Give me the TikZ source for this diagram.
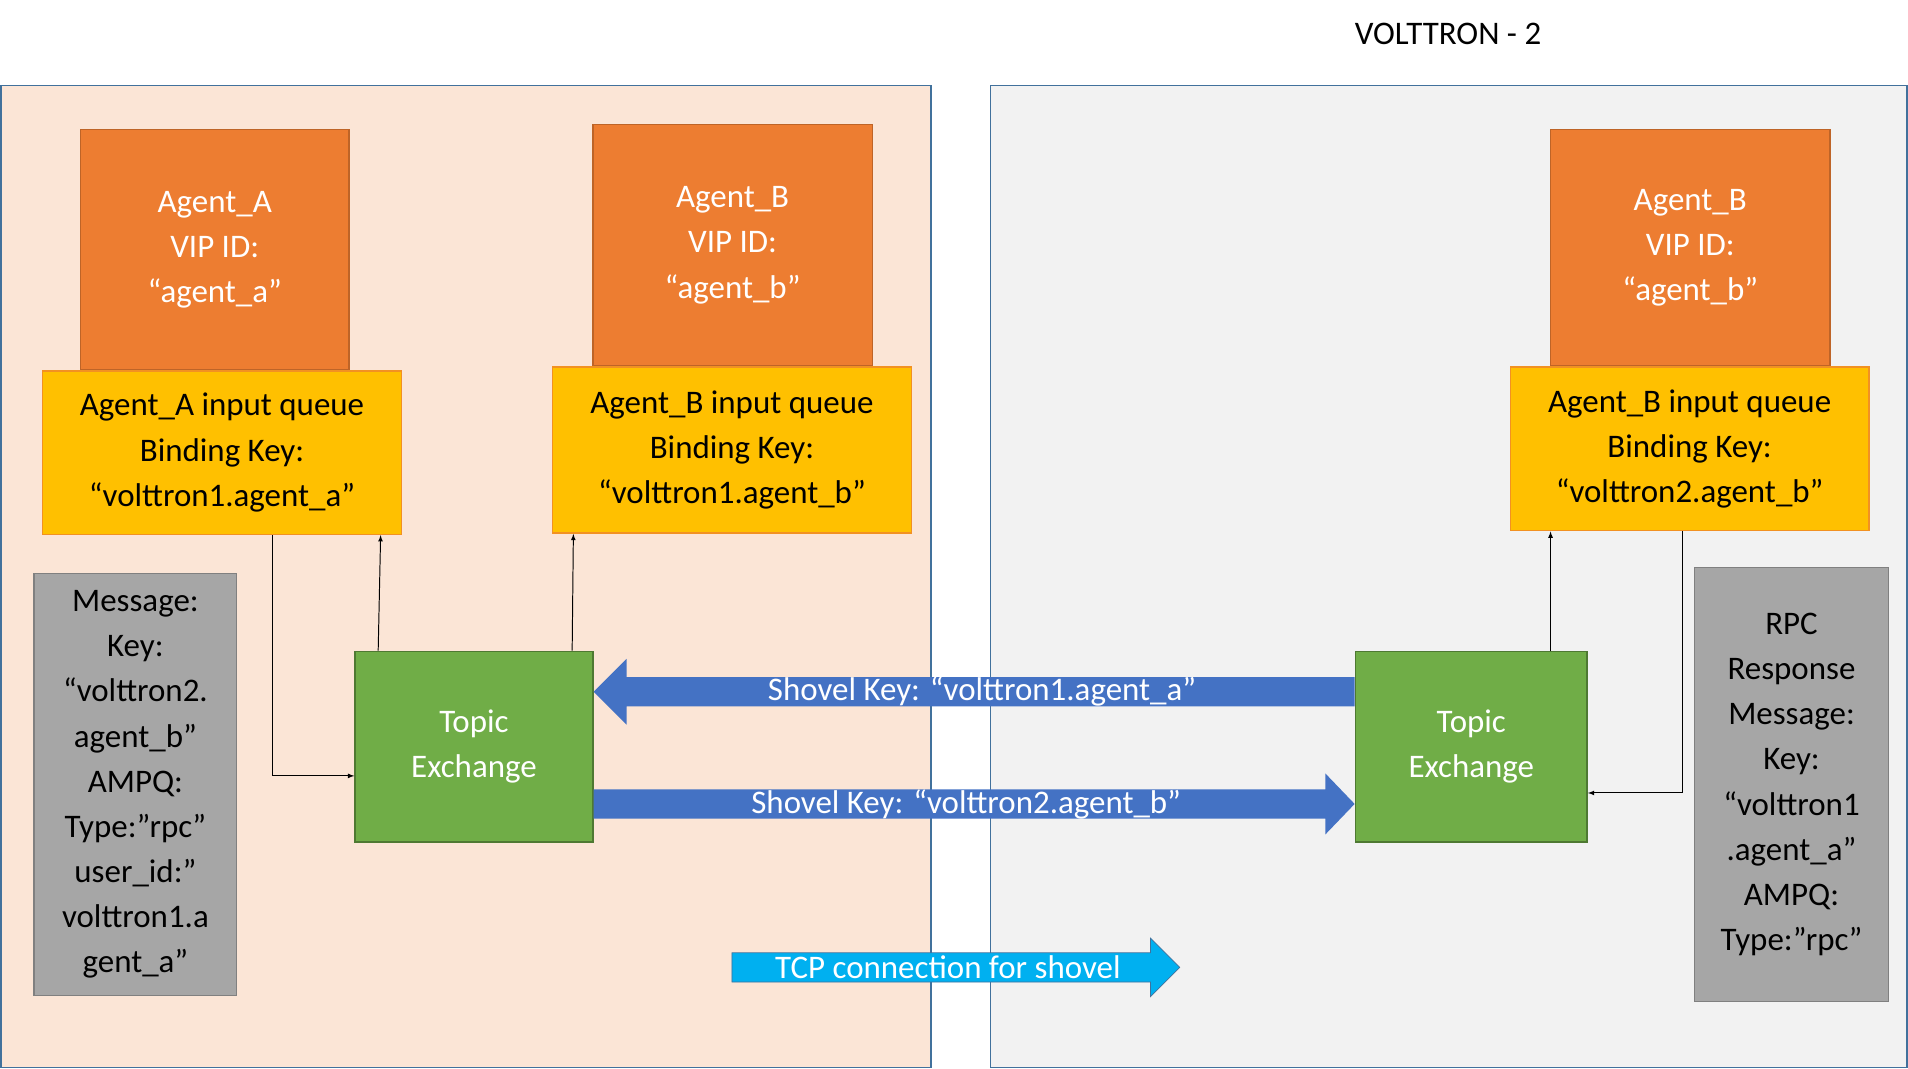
\documentclass[tikz,border=0pt]{standalone}
\usepackage{fontspec}
\setmainfont{Carlito}
\usetikzlibrary{calc}
\definecolor{peach}{HTML}{FBE5D6}
\definecolor{panelgray}{HTML}{F2F2F2}
\definecolor{panelline}{HTML}{41719C}
\definecolor{agentorange}{HTML}{ED7D31}
\definecolor{queueyellow}{HTML}{FFC000}
\definecolor{exgreen}{HTML}{70AD47}
\definecolor{msggray}{HTML}{A6A6A6}
\definecolor{shovelblue}{HTML}{4472C4}
\definecolor{tcpcyan}{HTML}{00B0F0}
\tikzset{
  box/.style={draw, line width=1.2pt, align=center, font=\fontsize{27}{37}\selectfont},
  agent/.style={box, fill=agentorange, draw=agentorange!80!black, text=white},
  queue/.style={box, fill=queueyellow, draw=agentorange!70!queueyellow},
  exch/.style={box, fill=exgreen, draw=exgreen!70!black, text=white},
  msg/.style={box, fill=msggray, draw=black!50},
  thin/.style={-latex, line width=0.8pt},
}
\begin{document}
\begin{tikzpicture}[x=1pt,y=-1pt]
      \useasboundingbox (0,0) rectangle (1564,876);
      % panels
      \draw[fill=peach, draw=panelline, line width=1.2pt] (1,70) rectangle (763,875);
      \draw[fill=panelgray, draw=panelline, line width=1.2pt] (812,70) rectangle (1563,875);
      \node[font=\fontsize{27}{32}\selectfont] (title) at (1187,28) {VOLTTRON - 2};
      % agents
      \node[agent, minimum width=220, minimum height=197] (agA) at (176,204.5) {Agent\_A\\VIP ID:\\“agent\_a”};
      \node[agent, minimum width=229, minimum height=198] (agB) at (600.5,201) {Agent\_B\\VIP ID:\\“agent\_b”};
      \node[agent, minimum width=229, minimum height=194] (agB2) at (1385.5,203) {Agent\_B\\VIP ID:\\“agent\_b”};
      \node[queue, minimum width=294, minimum height=134] (qA) at (182,371) {Agent\_A input queue\\Binding Key:\\“volttron1.agent\_a”};
      \node[queue, minimum width=294, minimum height=136] (qB) at (600,369) {Agent\_B input queue\\Binding Key:\\“volttron1.agent\_b”};
      \node[queue, minimum width=294, minimum height=134] (qB2) at (1385,368) {Agent\_B input queue\\Binding Key:\\“volttron2.agent\_b”};
      % messages
      \node[msg, minimum width=166, minimum height=346, inner xsep=2pt] (msgA) at (111,643) {Message:\\Key:\\“volttron2.\\agent\_b”\\AMPQ:\\Type:”rpc”\\user\_id:”\\volttron1.a\\gent\_a”};
      \node[msg, minimum width=159, minimum height=356, inner xsep=2pt] (msgB) at (1468.5,643) {RPC\\Response\\Message:\\Key:\\“volttron1\\.agent\_a”\\AMPQ:\\Type:”rpc”};
      % exchanges
      \node[exch, minimum width=195, minimum height=156] (exL) at (388.5,612) {Topic\\Exchange};
      \node[exch, minimum width=190, minimum height=156] (exR) at (1206,612) {Topic\\Exchange};
      % shovels
      \fill[shovelblue] ($(exR.west)+(0,-57)$) -- ($(exR.west)+(0,-33)$) -- ($(exL.east)+(27,-33)$) -- ($(exL.east)+(27,-18)$)
        -- ($(exL.east)+(0,-45)$) -- ($(exL.east)+(27,-72)$) -- ($(exL.east)+(27,-57)$) -- cycle;
      \fill[shovelblue] ($(exL.east)+(0,35)$) -- ($(exL.east)+(0,59)$) -- ($(exR.west)+(-24,59)$) -- ($(exR.west)+(-24,72)$)
        -- ($(exR.west)+(0,47)$) -- ($(exR.west)+(-24,22)$) -- ($(exR.west)+(-24,35)$) -- cycle;
      \node[text=white, font=\fontsize{27}{32}\selectfont] (shA) at (805,567) {Shovel Key: “volttron1.agent\_a”};
      \node[text=white, font=\fontsize{27}{32}\selectfont] (shB) at (792,659) {Shovel Key: “volttron2.agent\_b”};
      % tcp
      \coordinate (tcpS) at (600,793);
      \fill[tcpcyan, draw=panelline, line width=0.6pt] ($(tcpS)+(0,-12)$) -- ($(tcpS)+(343,-12)$) -- ($(tcpS)+(343,-24)$) -- ($(tcpS)+(367,0)$)
        -- ($(tcpS)+(343,24)$) -- ($(tcpS)+(343,12)$) -- ($(tcpS)+(0,12)$) -- cycle;
      \node[text=white, font=\fontsize{27}{32}\selectfont] (tcp) at (777,793) {TCP connection for shovel};
      % thin connectors
      \draw[thin] (qA.south -| 223,0) |- (exL.west |- 0,636);
      \draw[thin] (exL.north -| 310,0) -- (qA.south -| 312,0);
      \draw[thin] (exL.north -| 469,0) -- (qB.south -| 470,0);
      \draw[thin] (exR.north -| 1271,0) -- (qB2.south -| 1271,0);
      \draw[thin] (qB2.south -| 1379,0) |- (exR.east |- 0,650);
\end{tikzpicture}
\end{document}
